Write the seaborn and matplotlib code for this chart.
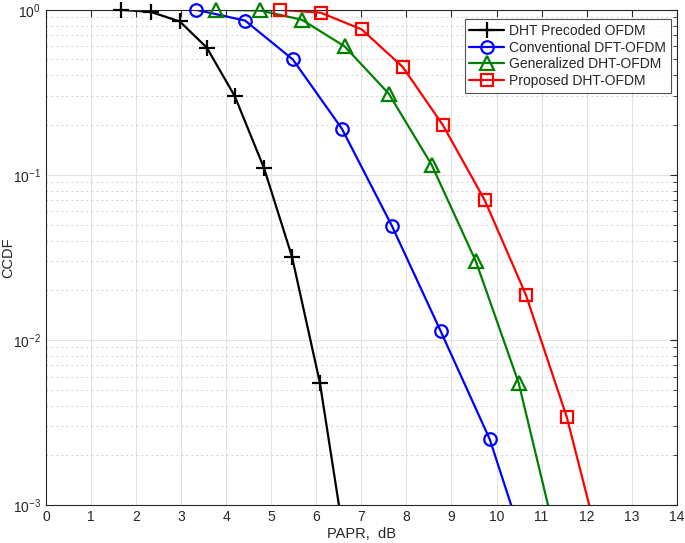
import numpy as np
import pandas as pd
import matplotlib
matplotlib.use("Agg")
import matplotlib.pyplot as plt
from matplotlib.lines import Line2D
from matplotlib.ticker import LogLocator, MultipleLocator, NullFormatter
import seaborn as sns

# ------------------------------
# Data
# ------------------------------
papr_dht_pre = [1.66, 2.33, 2.97, 3.57, 4.19, 4.84, 5.46, 6.08, 6.70]
ccdf_dht_pre = [1.0, 0.97, 0.85, 0.59, 0.30, 0.110, 0.032, 0.0055, 0.00045]

papr_dft = [3.33, 4.42, 5.48, 6.57, 7.68, 8.76, 9.85, 10.93]
ccdf_dft = [1.0, 0.86, 0.50, 0.19, 0.049, 0.0113, 0.0025, 0.00031]

papr_gen = [3.77, 4.75, 5.68, 6.63, 7.61, 8.56, 9.54, 10.49, 11.44]
ccdf_gen = [1.0, 0.99, 0.87, 0.60, 0.31, 0.115, 0.030, 0.0055, 0.00046]

papr_prop = [5.19, 6.10, 7.01, 7.92, 8.81, 9.74, 10.65, 11.56, 12.46]
ccdf_prop = [1.0, 0.96, 0.76, 0.45, 0.20, 0.070, 0.0188, 0.0034, 0.00037]

labels = ["DHT Precoded OFDM", "Conventional DFT-OFDM",
          "Generalized DHT-OFDM", "Proposed DHT-OFDM"]
colors = ["black", "#0000ff", "#008000", "#ff0000"]
markers = ["+", "o", "^", "s"]
msizes = [11, 9, 10, 8]

series = [(papr_dht_pre, ccdf_dht_pre), (papr_dft, ccdf_dft),
          (papr_gen, ccdf_gen), (papr_prop, ccdf_prop)]

# ------------------------------
# Plot
# ------------------------------
sns.set_style("white")
plt.rcParams["font.family"] = ["Liberation Sans", "DejaVu Sans"]
plt.rcParams["font.size"] = 10

fig = plt.figure(figsize=(6.85, 5.43), dpi=100)
ax = fig.add_axes([0.067, 0.070, 0.921, 0.912])

YMIN, YMAX = 1e-3, 1.0
handles = []
for (x, y), lab, c, m, ms in zip(series, labels, colors, markers, msizes):
    df = pd.DataFrame({"papr": x, "ccdf": y})
    sns.lineplot(data=df, x="papr", y="ccdf", color=c, lw=1.6,
                 sort=False, estimator=None, ax=ax)
    # markers inside the axes range are drawn unclipped (like MATLAB)
    vis = df[(df.ccdf >= YMIN) & (df.ccdf <= YMAX)]
    ax.plot(vis.papr, vis.ccdf, linestyle="none", marker=m, ms=ms,
            mfc="none", mec=c, mew=1.6, clip_on=False, zorder=5)
    handles.append(Line2D([], [], color=c, lw=1.6, marker=m, ms=ms,
                          mfc="none", mec=c, mew=1.6, label=lab))

ax.set_yscale("log")
ax.set_xlim(0, 14)
ax.set_ylim(YMIN, YMAX)
ax.xaxis.set_major_locator(MultipleLocator(1))
ax.yaxis.set_major_locator(LogLocator(base=10, numticks=10))
ax.yaxis.set_minor_locator(LogLocator(base=10, subs=np.arange(2, 10), numticks=20))
ax.yaxis.set_minor_formatter(NullFormatter())

ax.grid(True, which="major", color="#e3e3e3", lw=0.8)
ax.grid(True, which="minor", axis="y", color="#cfcfcf", lw=0.8, linestyle=(0, (1.5, 3)))
ax.set_axisbelow(True)

ax.tick_params(which="both", direction="in", top=True, right=True,
               colors="#262626", labelsize=10)
ax.tick_params(which="major", length=5)
ax.tick_params(which="minor", length=3)
for s in ax.spines.values():
    s.set_color("#262626")
    s.set_linewidth(0.8)

ax.set_xlabel("PAPR,  dB", fontsize=10.5, labelpad=2)
ax.set_ylabel("CCDF", fontsize=10.5)
ax.yaxis.set_label_coords(-0.048, 0.5)

leg = ax.legend(handles=handles, loc="upper right", bbox_to_anchor=(0.997, 0.99),
                fontsize=10, frameon=True, fancybox=False, edgecolor="#262626",
                handlelength=2.5, borderpad=0.35, labelspacing=0.2,
                handletextpad=0.35, borderaxespad=0.3)
leg.get_frame().set_linewidth(0.8)

fig.savefig("out.png", dpi=100)
